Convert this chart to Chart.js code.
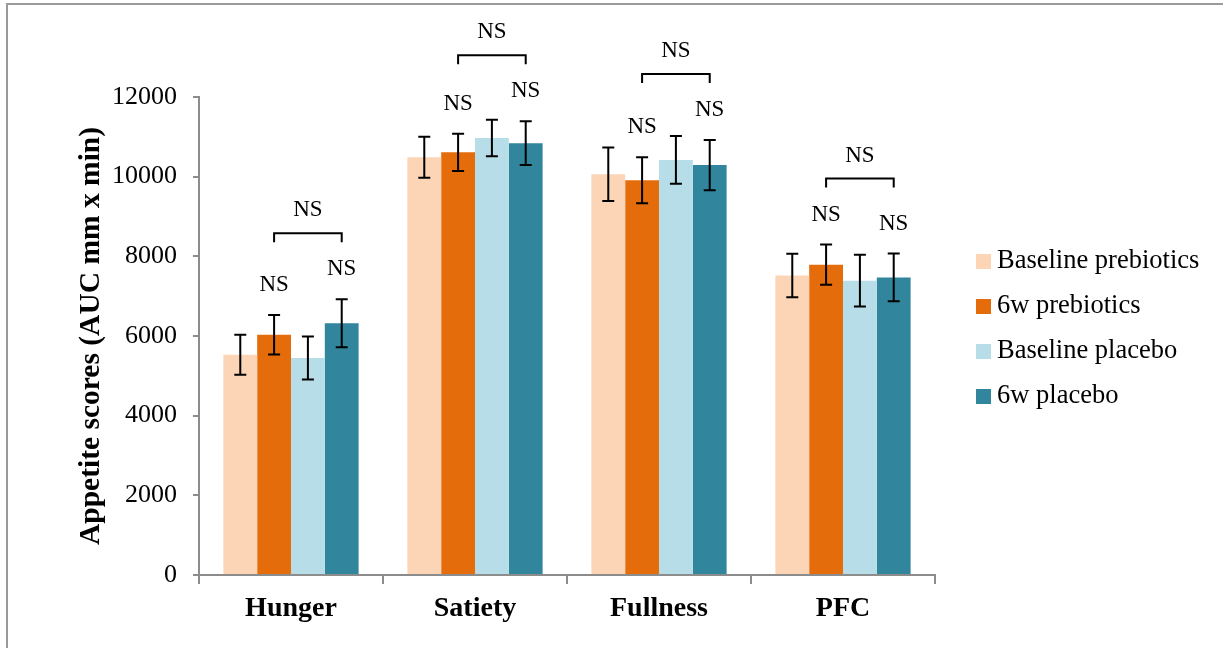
<!DOCTYPE html>
<html>
<head>
<meta charset="utf-8">
<title>Appetite scores</title>
<script src="https://cdn.jsdelivr.net/npm/chart.js@4.4.1/dist/chart.umd.min.js"></script>
<style>
  html, body { margin: 0; padding: 0; background: #ffffff; }
  #wrap { position: relative; width: 1223px; height: 648px; }
  #frame { position: absolute; left: 6px; top: 3px; right: -10px; bottom: -10px;
           border-left: 2px solid #9a9a9a; border-top: 2px solid #9a9a9a; pointer-events: none; }
  canvas { display: block; }
</style>
</head>
<body>
<div id="wrap">
  <canvas id="chart" width="1223" height="648"></canvas>
  <div id="frame"></div>
</div>
<script>
// Appetite AUC scores per question, by group and time point
const categories = ['Hunger', 'Satiety', 'Fullness', 'PFC'];
const seriesNames = ['Baseline prebiotics', '6w prebiotics', 'Baseline placebo', '6w placebo'];

const baselinePrebiotics = [5530, 10490, 10060, 7520];
const sixWeekPrebiotics  = [6030, 10610,  9910, 7790];
const baselinePlacebo    = [5450, 10970, 10420, 7390];
const sixWeekPlacebo     = [6320, 10840, 10290, 7470];

// standard errors
const errBaselinePrebiotics = [500, 515, 670, 545];
const errSixWeekPrebiotics  = [495, 465, 580, 505];
const errBaselinePlacebo    = [540, 460, 600, 650];
const errSixWeekPlacebo     = [600, 550, 630, 600];

const yTicks = [0, 2000, 4000, 6000, 8000, 10000, 12000];
const significanceText = 'NS';

const seriesColors = ['#FBD5B5', '#E46C0A', '#B7DEE8', '#31859C'];
const seriesValues = [baselinePrebiotics, sixWeekPrebiotics, baselinePlacebo, sixWeekPlacebo];
const seriesErrors = [errBaselinePrebiotics, errSixWeekPrebiotics, errBaselinePlacebo, errSixWeekPlacebo];

const FONT = "'Liberation Serif', 'Times New Roman', serif";
const AXIS_GREY = '#8c8c8c';

// error bars, NS labels and brackets between the 6-week bars
const annotations = {
  id: 'annotations',
  afterDatasetsDraw(chart) {
    const ctx = chart.ctx;
    const y = chart.scales.y;
    ctx.save();
    ctx.strokeStyle = '#000';
    ctx.lineWidth = 2;
    chart.data.datasets.forEach((ds, di) => {
      const meta = chart.getDatasetMeta(di);
      meta.data.forEach((bar, i) => {
        const v = ds.data[i], e = ds.errors[i];
        const top = y.getPixelForValue(v + e), bot = y.getPixelForValue(v - e);
        ctx.beginPath();
        ctx.moveTo(bar.x, top); ctx.lineTo(bar.x, bot);
        ctx.moveTo(bar.x - 6, top); ctx.lineTo(bar.x + 6, top);
        ctx.moveTo(bar.x - 6, bot); ctx.lineTo(bar.x + 6, bot);
        ctx.stroke();
      });
    });

    ctx.fillStyle = '#000';
    ctx.textAlign = 'center';
    ctx.textBaseline = 'middle';
    ctx.font = '23px ' + FONT;
    const pair = [1, 3];
    categories.forEach((c, i) => {
      const labelYs = pair.map(di => {
        const bar = chart.getDatasetMeta(di).data[i];
        const ds = chart.data.datasets[di];
        const ly = y.getPixelForValue(ds.data[i] + ds.errors[i]) - 30;
        ctx.fillText(significanceText, bar.x, ly);
        return ly;
      });
      const x0 = chart.getDatasetMeta(pair[0]).data[i].x;
      const x1 = chart.getDatasetMeta(pair[1]).data[i].x;
      const by = Math.min(...labelYs) - 36;
      ctx.beginPath();
      ctx.moveTo(x0, by + 9); ctx.lineTo(x0, by); ctx.lineTo(x1, by); ctx.lineTo(x1, by + 9);
      ctx.stroke();
      ctx.fillText(significanceText, (x0 + x1) / 2, by - 23);
    });
    ctx.restore();
  }
};

// legend on the right side
const sideLegend = {
  id: 'sideLegend',
  afterDraw(chart) {
    const ctx = chart.ctx;
    ctx.save();
    ctx.font = '26.5px ' + FONT;
    ctx.textBaseline = 'middle';
    ctx.textAlign = 'left';
    chart.data.datasets.forEach((ds, di) => {
      const cy = 261 + di * 45;
      ctx.fillStyle = ds.backgroundColor;
      ctx.fillRect(976, cy - 7, 15, 15);
      ctx.fillStyle = '#000';
      ctx.fillText(ds.label, 997, cy);
    });
    ctx.restore();
  }
};

new Chart(document.getElementById('chart'), {
  type: 'bar',
  data: {
    labels: categories,
    datasets: seriesNames.map((name, i) => ({
      label: name,
      data: seriesValues[i],
      errors: seriesErrors[i],
      backgroundColor: seriesColors[i],
      borderWidth: 0,
      categoryPercentage: 0.735,
      barPercentage: 1.0
    }))
  },
  options: {
    responsive: false,
    animation: false,
    devicePixelRatio: 1,
    layout: { padding: { left: 74, top: 97, right: 288, bottom: 0 } },
    plugins: { legend: { display: false }, tooltip: { enabled: false } },
    scales: {
      x: {
        grid: { display: true, offset: true, drawOnChartArea: false, tickLength: 9, color: AXIS_GREY, lineWidth: 2 },
        border: { color: AXIS_GREY, width: 2 },
        ticks: { color: '#000', font: { family: FONT, size: 28, weight: 'bold' }, padding: 8 },
        afterFit(scale) { scale.height = 73; }
      },
      y: {
        min: 0, max: 12000,
        afterBuildTicks(scale) { scale.ticks = yTicks.map(v => ({ value: v })); },
        grid: { display: true, drawOnChartArea: false, tickLength: 6, color: AXIS_GREY, lineWidth: 2 },
        border: { color: AXIS_GREY, width: 2 },
        ticks: {
          color: '#000', font: { family: FONT, size: 26 }, padding: 16,
          callback: v => String(v)
        },
        title: {
          display: true,
          text: 'Appetite scores (AUC mm x min)',
          color: '#000',
          font: { family: FONT, size: 29.5, weight: 'bold' },
          padding: { top: 0, bottom: 0 }
        },
        afterFit(scale) { scale.width = 125; }
      }
    }
  },
  plugins: [annotations, sideLegend]
});
</script>
</body>
</html>
